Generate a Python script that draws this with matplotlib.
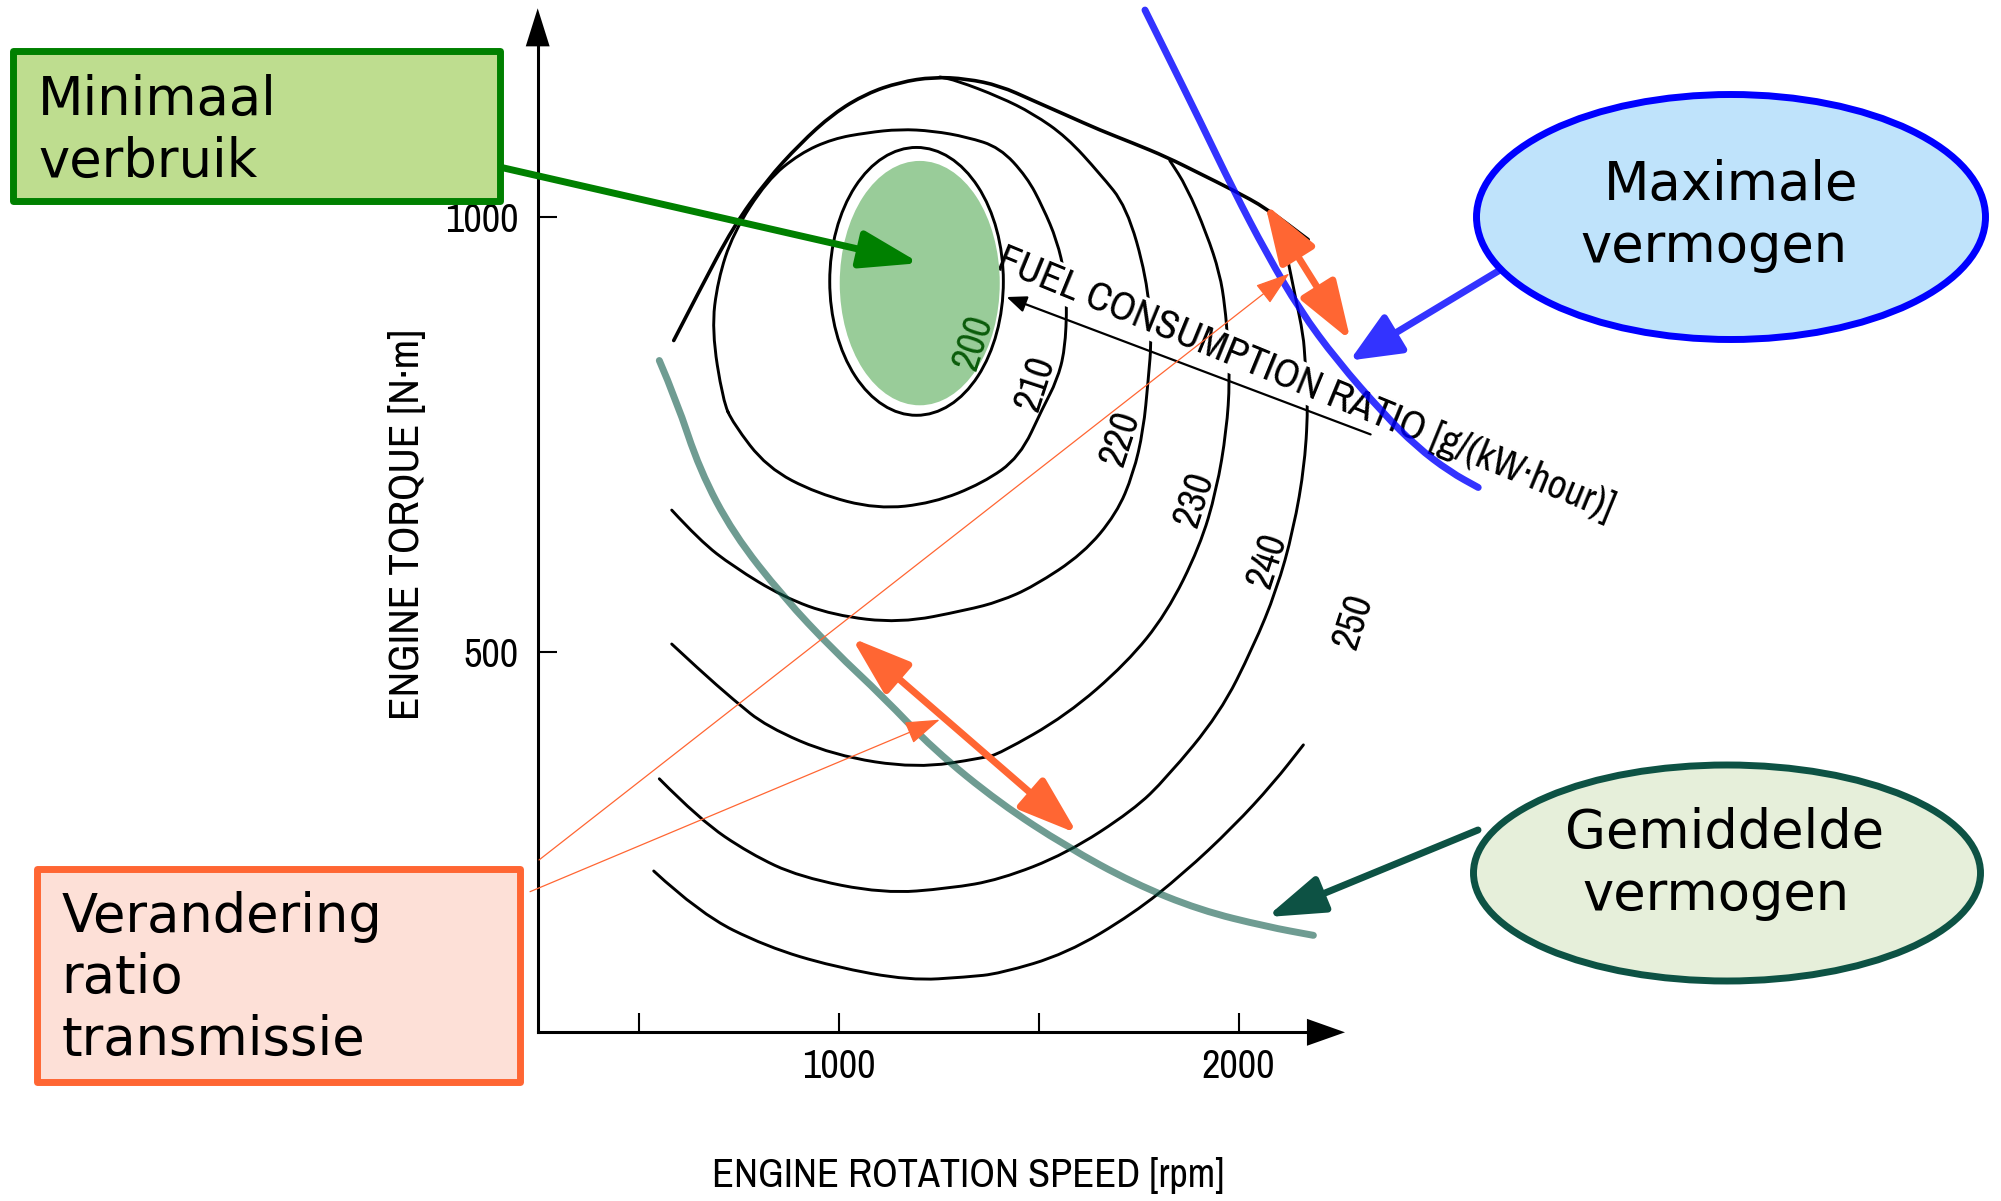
import matplotlib
matplotlib.use("Agg")
import matplotlib.pyplot as plt
from matplotlib import font_manager
from matplotlib.patches import Ellipse, Rectangle, PathPatch
from matplotlib.path import Path

# ---- values: engine speed [rpm], engine torque [N·m] ----
envelope_rpm = [588, 653, 737, 820, 903, 987, 1070, 1153, 1237, 1320, 1403, 1486,
                1570, 1653, 1736, 1820, 1903, 1986, 2070, 2174]
envelope_nm = [858, 916, 989, 1042, 1084, 1119, 1142, 1155, 1161, 1159, 1151, 1134,
               1117, 1100, 1085, 1069, 1050, 1031, 1010, 974]

c200_center = (1195, 926)
c200_size = (434, 308)
best_zone_center = (1203, 924)
best_zone_size = (400, 281)

c210_rpm = [711, 683, 698, 736, 821, 903, 986, 1071, 1153, 1236, 1321, 1403, 1471, 1511,
            1546, 1566, 1571, 1566, 1546, 1511, 1453, 1361, 1236, 1096, 946, 821, 736]
c210_nm = [789, 870, 927, 981, 1042, 1073, 1090, 1097, 1101, 1099, 1092, 1080, 1046, 1011,
           973, 933, 901, 847, 812, 781, 724, 694, 671, 664, 682, 712, 763]

c220_rpm = [583, 653, 737, 862, 987, 1153, 1320, 1403, 1487, 1612, 1695, 1737, 1762, 1774,
            1783, 1770, 1720, 1653, 1570, 1486, 1403, 1295, 1253]
c220_nm = [663, 628, 598, 563, 542, 533, 548, 558, 575, 613, 659, 705, 755, 812,
           862, 931, 1012, 1050, 1092, 1119, 1138, 1157, 1161]

c230_rpm = [583, 653, 737, 820, 987, 1195, 1362, 1403, 1570, 1720, 1820, 1903, 1945, 1970,
            1978, 1973, 1966, 1953, 1920, 1870, 1828]
c230_nm = [509, 479, 445, 414, 381, 366, 378, 383, 427, 487, 544, 621, 686, 755,
           812, 858, 897, 935, 981, 1035, 1065]

c240_rpm = [552, 653, 778, 903, 1112, 1278, 1403, 1570, 1737, 1820, 1953, 2037, 2095, 2137,
            2166, 2174, 2166, 2162, 2141, 2120, 2108]
c240_nm = [354, 307, 268, 241, 222, 228, 238, 268, 318, 355, 429, 506, 571, 640,
           717, 791, 835, 864, 910, 958, 982]

c250_rpm = [538, 653, 820, 987, 1178, 1320, 1403, 1570, 1737, 1862, 1987, 2087, 2162]
c250_nm = [248, 199, 161, 138, 122, 126, 130, 153, 199, 245, 299, 349, 393]

level_labels = ["200", "210", "220", "230", "240", "250"]
label_rpm = [1336, 1491, 1703, 1888, 2071, 2286]
label_nm = [856, 809, 746, 676, 605, 535]

# maximum power line (blue) and average power line (teal)
max_power_rpm = [1766, 1820, 1903, 1987, 2070, 2153, 2246, 2362, 2445, 2528, 2599]
max_power_nm = [1238, 1188, 1111, 1031, 958, 893, 835, 774, 736, 707, 689]
avg_power_rpm = [552, 595, 653, 737, 862, 987, 1112, 1237, 1403, 1570, 1737, 1903, 2070, 2187]
avg_power_nm = [835, 789, 709, 636, 563, 502, 448, 388, 326, 276, 234, 203, 184, 174]

# double arrows: change of transmission ratio
ratio_arrow_rpm = [(1033, 1597), (2066, 2280)]
ratio_arrow_nm = [(516, 291), (1015, 858)]
thin_tip_rpm = [2127, 1253]
thin_tip_nm = [935, 422]

fuel_arrow_rpm = [2330, 1420]
fuel_arrow_nm = [750, 908]
fuel_label_at = (1390, 941)

min_use_point = (1203, 947)
max_power_point = (2278, 835)
avg_power_point = (2070, 195)

x_ticks = [500, 1000, 1500, 2000]
x_ticklabels = ["", "1000", "", "2000"]
y_ticks = [500, 1000]
y_ticklabels = ["500", "1000"]

# ---- layout (pixels of the 2001x1201 picture) ----
W, H = 2001, 1201
AX_L, AX_T, AX_R, AX_B = 537.7, 8.3, 1345.0, 1032.3
XLIM = (248, 2266)
YLIM = (62.5, 1240)

ORANGE = "#ff6633"
BLUE = "#3333ff"
TEAL = "#0d5244"
BOX_FONT = "DejaVu Sans"

# the scanned chart uses a narrow sans; fall back to a plain one, set a bit smaller
SCAN, SCALE = "Liberation Sans", 0.88
for f in font_manager.fontManager.ttflist:
    if "Narrow" in f.name or "Condensed" in f.name:
        SCAN, SCALE = f.name, 1.0
        break


def fs(size):
    return size * SCALE


def arrow(style, hl, hw, lw, color):
    return dict(arrowstyle=f"{style},head_length={hl},head_width={hw}", mutation_scale=1,
                lw=lw, color=color, shrinkA=0, shrinkB=0)


def smooth(xs, ys, closed=False):
    # quadratic pieces through the midpoints of the read points
    pts = list(zip(xs, ys))
    mids = [((a[0] + b[0]) / 2, (a[1] + b[1]) / 2) for a, b in zip(pts, pts[1:] + pts[:1])]
    if closed:
        verts, codes = [mids[-1]], [Path.MOVETO]
        for p, m in zip(pts, mids):
            verts += [p, m]
            codes += [Path.CURVE3, Path.CURVE3]
    else:
        verts, codes = [pts[0]], [Path.MOVETO]
        for p, m in zip(pts[1:-1], mids[1:-1]):
            verts += [p, m]
            codes += [Path.CURVE3, Path.CURVE3]
        verts.append(pts[-1])
        codes.append(Path.LINETO)
    return Path(verts, codes)


def curve(xs, ys, closed=False, **kw):
    ax.add_patch(PathPatch(smooth(xs, ys, closed), fill=False, capstyle="round",
                           joinstyle="round", **kw))


fig = plt.figure(figsize=(W / 100, H / 100), dpi=100)
ax = fig.add_axes([AX_L / W, 1 - AX_B / H, (AX_R - AX_L) / W, (AX_B - AX_T) / H], zorder=1)
ov = fig.add_axes([0, 0, 1, 1], zorder=3)
ov.set_xlim(0, W)
ov.set_ylim(H, 0)
ov.axis("off")

ax.set_xlim(*XLIM)
ax.set_ylim(*YLIM)
for side in ("top", "right"):
    ax.spines[side].set_visible(False)
ax.spines["bottom"].set_linewidth(2.2)
ax.spines["left"].set_linewidth(2.2)
ax.spines["bottom"].set_bounds(XLIM[0], XLIM[1] - 60)
ax.spines["left"].set_bounds(YLIM[0], YLIM[1] - 40)
ax.annotate("", xy=(1, 0), xytext=(0.9, 0), xycoords="axes fraction",
            arrowprops=arrow("-|>", 27.4, 9.7, 0, "k"))
ax.annotate("", xy=(0, 1), xytext=(0, 0.9), xycoords="axes fraction",
            arrowprops=arrow("-|>", 27.4, 8.6, 0, "k"))

ax.set_xticks(x_ticks, x_ticklabels)
ax.set_yticks(y_ticks, y_ticklabels)
ax.tick_params(direction="in", length=14, width=1.5, labelsize=fs(29), labelfontfamily=SCAN)
ax.tick_params(axis="x", pad=11)
ax.tick_params(axis="y", pad=14)

ax.set_xlabel("ENGINE ROTATION SPEED [rpm]", fontsize=fs(29), family=SCAN)
ax.set_ylabel("ENGINE TORQUE [N·m]", fontsize=fs(31), family=SCAN)
ax.xaxis.set_label_coords(968, 1175.5, transform=ov.transData)
ax.yaxis.set_label_coords(406.5, 525, transform=ov.transData)
ax.xaxis.label.set_va("center")
ax.yaxis.label.set_va("center")

# fuel consumption map
curve(envelope_rpm, envelope_nm, ec="k", lw=2.6, zorder=2)
for r, n in [(c220_rpm, c220_nm), (c230_rpm, c230_nm), (c240_rpm, c240_nm),
             (c250_rpm, c250_nm)]:
    curve(r, n, ec="k", lw=2.1, zorder=2)
curve(c210_rpm, c210_nm, closed=True, ec="k", lw=2.1, zorder=2)
# the innermost loop and the best zone sit above the label's white band
ax.add_patch(Ellipse(c200_center, *c200_size, fill=False, ec="k", lw=2.1, zorder=4.5))
ax.add_patch(Ellipse(best_zone_center, *best_zone_size, fc="#99cc99", ec="none", zorder=4.5))

for lab, r, n in zip(level_labels, label_rpm, label_nm):
    ax.text(r, n, lab, rotation=72, rotation_mode="anchor", ha="center", va="center",
            fontsize=fs(29), family=SCAN, color="#0a5c0a" if lab == "200" else "k",
            zorder=4.6)

ax.text(*fuel_label_at, "FUEL CONSUMPTION RATIO [g/(kW·hour)]", rotation=-22.3,
        rotation_mode="anchor", ha="left", va="baseline", fontsize=fs(29.5), family=SCAN,
        bbox=dict(fc="white", ec="none", pad=1), zorder=4)
ax.annotate("", xy=(fuel_arrow_rpm[1], fuel_arrow_nm[1]),
            xytext=(fuel_arrow_rpm[0], fuel_arrow_nm[0]),
            arrowprops=arrow("-|>", 12, 5, 1.6, "k"), zorder=5, annotation_clip=False)

curve(avg_power_rpm, avg_power_nm, ec="#0f5a4a", alpha=0.6, lw=5, zorder=6, clip_on=False)
curve(max_power_rpm, max_power_nm, ec="#0000ff", alpha=0.8, lw=5, zorder=6, clip_on=False)

for (r0, r1), (n0, n1) in zip(ratio_arrow_rpm, ratio_arrow_nm):
    ax.annotate("", xy=(r1, n1), xytext=(r0, n0),
                arrowprops=arrow("<|-|>", 36, 12.3, 5, ORANGE), zorder=7,
                annotation_clip=False)

# ---- callouts ----
ov.add_patch(Rectangle((12.8, 50.8), 487, 150.7, fc="#bedd8f", ec="#008000", lw=5,
                       joinstyle="round", zorder=5))
ov.add_patch(Rectangle((36.8, 868.5), 483, 213, fc="#fde0d7", ec=ORANGE, lw=5,
                       joinstyle="round", zorder=5))
ov.add_patch(Ellipse((1731, 217), 509, 245, fc="#bfe3fb", ec="#0000ff", lw=5, zorder=5))
ov.add_patch(Ellipse((1727, 873), 507, 216, fc="#e6efda", ec=TEAL, lw=5, zorder=5))


def lines(words, xs, y0, ha):
    for i, (w, x) in enumerate(zip(words, xs)):
        ov.text(x, y0 + i * 61.7, w, ha=ha, va="baseline", fontsize=38,
                family=BOX_FONT, zorder=6)


lines(["Minimaal", "verbruik"], [38.3] * 2, 115, "left")
lines(["Verandering", "ratio", "transmissie"], [61.7] * 3, 931.7, "left")
lines(["Maximale", "vermogen"], [1731, 1714], 200, "center")
lines(["Gemiddelde", "vermogen"], [1725, 1716], 848, "center")

callouts = [(min_use_point, (495, 166), arrow("-|>", 36, 11.5, 5, "#008000")),
            (max_power_point, (1505, 267), arrow("-|>", 31, 13.5, 5, BLUE)),
            (avg_power_point, (1478, 830), arrow("-|>", 35, 11.5, 5, TEAL))]
for start, r, n in zip([(539, 860), (530, 891.7)], thin_tip_rpm, thin_tip_nm):
    callouts.append(((r, n), start, arrow("-|>", 22, 7.3, 0.9, ORANGE)))
for target, start, props in callouts:
    ov.annotate("", xy=target, xycoords=ax.transData, xytext=start,
                textcoords=ov.transData, arrowprops=props, zorder=4)

fig.savefig("out.png", dpi=100)
